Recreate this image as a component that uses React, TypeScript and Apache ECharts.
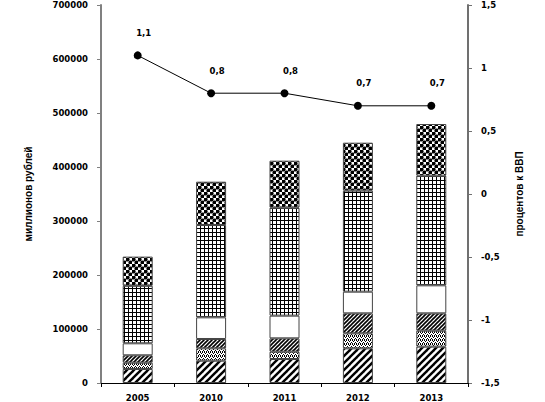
import React, { useEffect, useRef } from "react";
import * as echarts from "echarts";

const years = ["2005", "2010", "2011", "2012", "2013"];
const seriesDiagWide = [26000, 41300, 44400, 64200, 67300];
const seriesCross = [11600, 22900, 13600, 27800, 29600];
const seriesDiagFine = [13700, 17300, 24700, 37000, 32100];
const seriesWhite = [22200, 40100, 42000, 40100, 51900];
const seriesGrid = [106500, 171000, 200000, 187100, 203100];
const seriesDots = [54000, 80200, 87000, 88800, 95600];
const percentGdp = [1.1, 0.8, 0.8, 0.7, 0.7];

const leftName = "миллионов рублей";
const rightName = "процентов к ВВП";

function makePattern(w: number, h: number, draw: (ctx: CanvasRenderingContext2D) => void) {
  const c = document.createElement("canvas");
  c.width = w;
  c.height = h;
  const ctx = c.getContext("2d")!;
  ctx.fillStyle = "#ffffff";
  ctx.fillRect(0, 0, w, h);
  draw(ctx);
  return { image: c, repeat: "repeat", imageWidth: w, imageHeight: h } as any;
}

function diag(s: number, lw: number) {
  return makePattern(s, s, (ctx) => {
    ctx.strokeStyle = "#000";
    ctx.lineWidth = lw;
    for (let k = -1; k <= 1; k++) {
      ctx.beginPath();
      ctx.moveTo(k * s - 1, s + 1);
      ctx.lineTo(k * s + s + 1, -1);
      ctx.stroke();
    }
  });
}

export default function App() {
  const ref = useRef<HTMLDivElement>(null);
  useEffect(() => {
    document.body.style.margin = "0";
    const chart = echarts.init(ref.current!, null, { renderer: "svg" });
    const pDiagWide = diag(7, 2.4);
    const pDiagFine = diag(4, 1.6);
    const pCross = makePattern(4, 4, (ctx) => {
      ctx.fillStyle = "#000";
      ctx.fillRect(0, 0, 1, 1);
      ctx.fillRect(2, 0, 1, 1);
      ctx.fillRect(1, 1, 1, 1);
      ctx.fillRect(3, 2, 1, 1);
      ctx.fillRect(0, 3, 1, 1);
      ctx.fillRect(2, 3, 1, 1);
    });
    const pGrid = makePattern(4, 4, (ctx) => {
      ctx.fillStyle = "#000";
      ctx.fillRect(0, 0, 4, 1);
      ctx.fillRect(0, 0, 1, 4);
    });
    const pDots = makePattern(6, 6, (ctx) => {
      ctx.fillStyle = "#000";
      const pts = [
        [1.5, 1.5],
        [4.5, 4.5],
      ];
      for (const [x, y] of pts) {
        ctx.beginPath();
        ctx.arc(x, y, 2.1, 0, Math.PI * 2);
        ctx.fill();
      }
    });

    const labelFont = {
      fontFamily: "DejaVu Sans",
      fontWeight: "bold" as const,
      fontSize: 8.5,
      color: "#000",
    };
    const nameFont = {
      fontFamily: "Liberation Sans Narrow, Liberation Sans, Arial",
      fontWeight: "bold" as const,
      fontSize: 10,
      color: "#000",
    };
    const fmt = (v: number) => String(v).replace(".", ",");

    const barSeries = [
      { name: "a", data: seriesDiagWide, pat: pDiagWide },
      { name: "b", data: seriesCross, pat: pCross },
      { name: "c", data: seriesDiagFine, pat: pDiagFine },
      { name: "d", data: seriesWhite, pat: "#ffffff" },
      { name: "e", data: seriesGrid, pat: pGrid },
      { name: "f", data: seriesDots, pat: pDots },
    ].map((s) => ({
      name: s.name,
      type: "bar",
      stack: "total",
      barWidth: 30,
      data: s.data,
      itemStyle: { color: s.pat, borderColor: "#444", borderWidth: 1 },
    }));

    chart.setOption({
      animation: false,
      backgroundColor: "#ffffff",
      grid: { left: 101, right: 77, top: 5, bottom: 19, containLabel: false },
      xAxis: {
        type: "category",
        data: years,
        axisLine: { lineStyle: { color: "#000", width: 1 } },
        axisTick: { show: true, length: 4, lineStyle: { color: "#000" } },
        axisLabel: { ...labelFont, margin: 10 },
      },
      yAxis: [
        {
          type: "value",
          min: 0,
          max: 700000,
          interval: 100000,
          name: leftName,
          nameLocation: "middle",
          nameRotate: 90,
          nameGap: 68,
          nameTextStyle: nameFont,
          axisLine: { show: true, lineStyle: { color: "#808080", width: 2 } },
          axisTick: { show: true, length: 4, lineStyle: { color: "#808080" } },
          axisLabel: { ...labelFont, margin: 13, formatter: (v: number) => String(v) },
          splitLine: { show: false },
        },
        {
          type: "value",
          min: -1.5,
          max: 1.5,
          interval: 0.5,
          position: "right",
          name: rightName,
          nameLocation: "middle",
          nameRotate: 90,
          nameGap: 46,
          nameTextStyle: nameFont,
          axisLine: { show: true, lineStyle: { color: "#707070", width: 2 } },
          axisTick: { show: true, length: 4, lineStyle: { color: "#707070" } },
          axisLabel: { ...labelFont, margin: 13, formatter: fmt },
          splitLine: { show: false },
        },
      ],
      series: [
        ...barSeries,
        {
          name: "pct",
          type: "line",
          yAxisIndex: 1,
          data: percentGdp,
          symbol: "circle",
          symbolSize: 8,
          itemStyle: { color: "#000" },
          lineStyle: { color: "#000", width: 1 },
          label: {
            show: true,
            position: "top",
            distance: 10,
            offset: [6, -4],
            formatter: (p: any) => fmt(p.value),
            ...labelFont,
          },
        },
      ],
    });
    return () => chart.dispose();
  }, []);
  return <div ref={ref} style={{ width: 545, height: 402 }} />;
}
